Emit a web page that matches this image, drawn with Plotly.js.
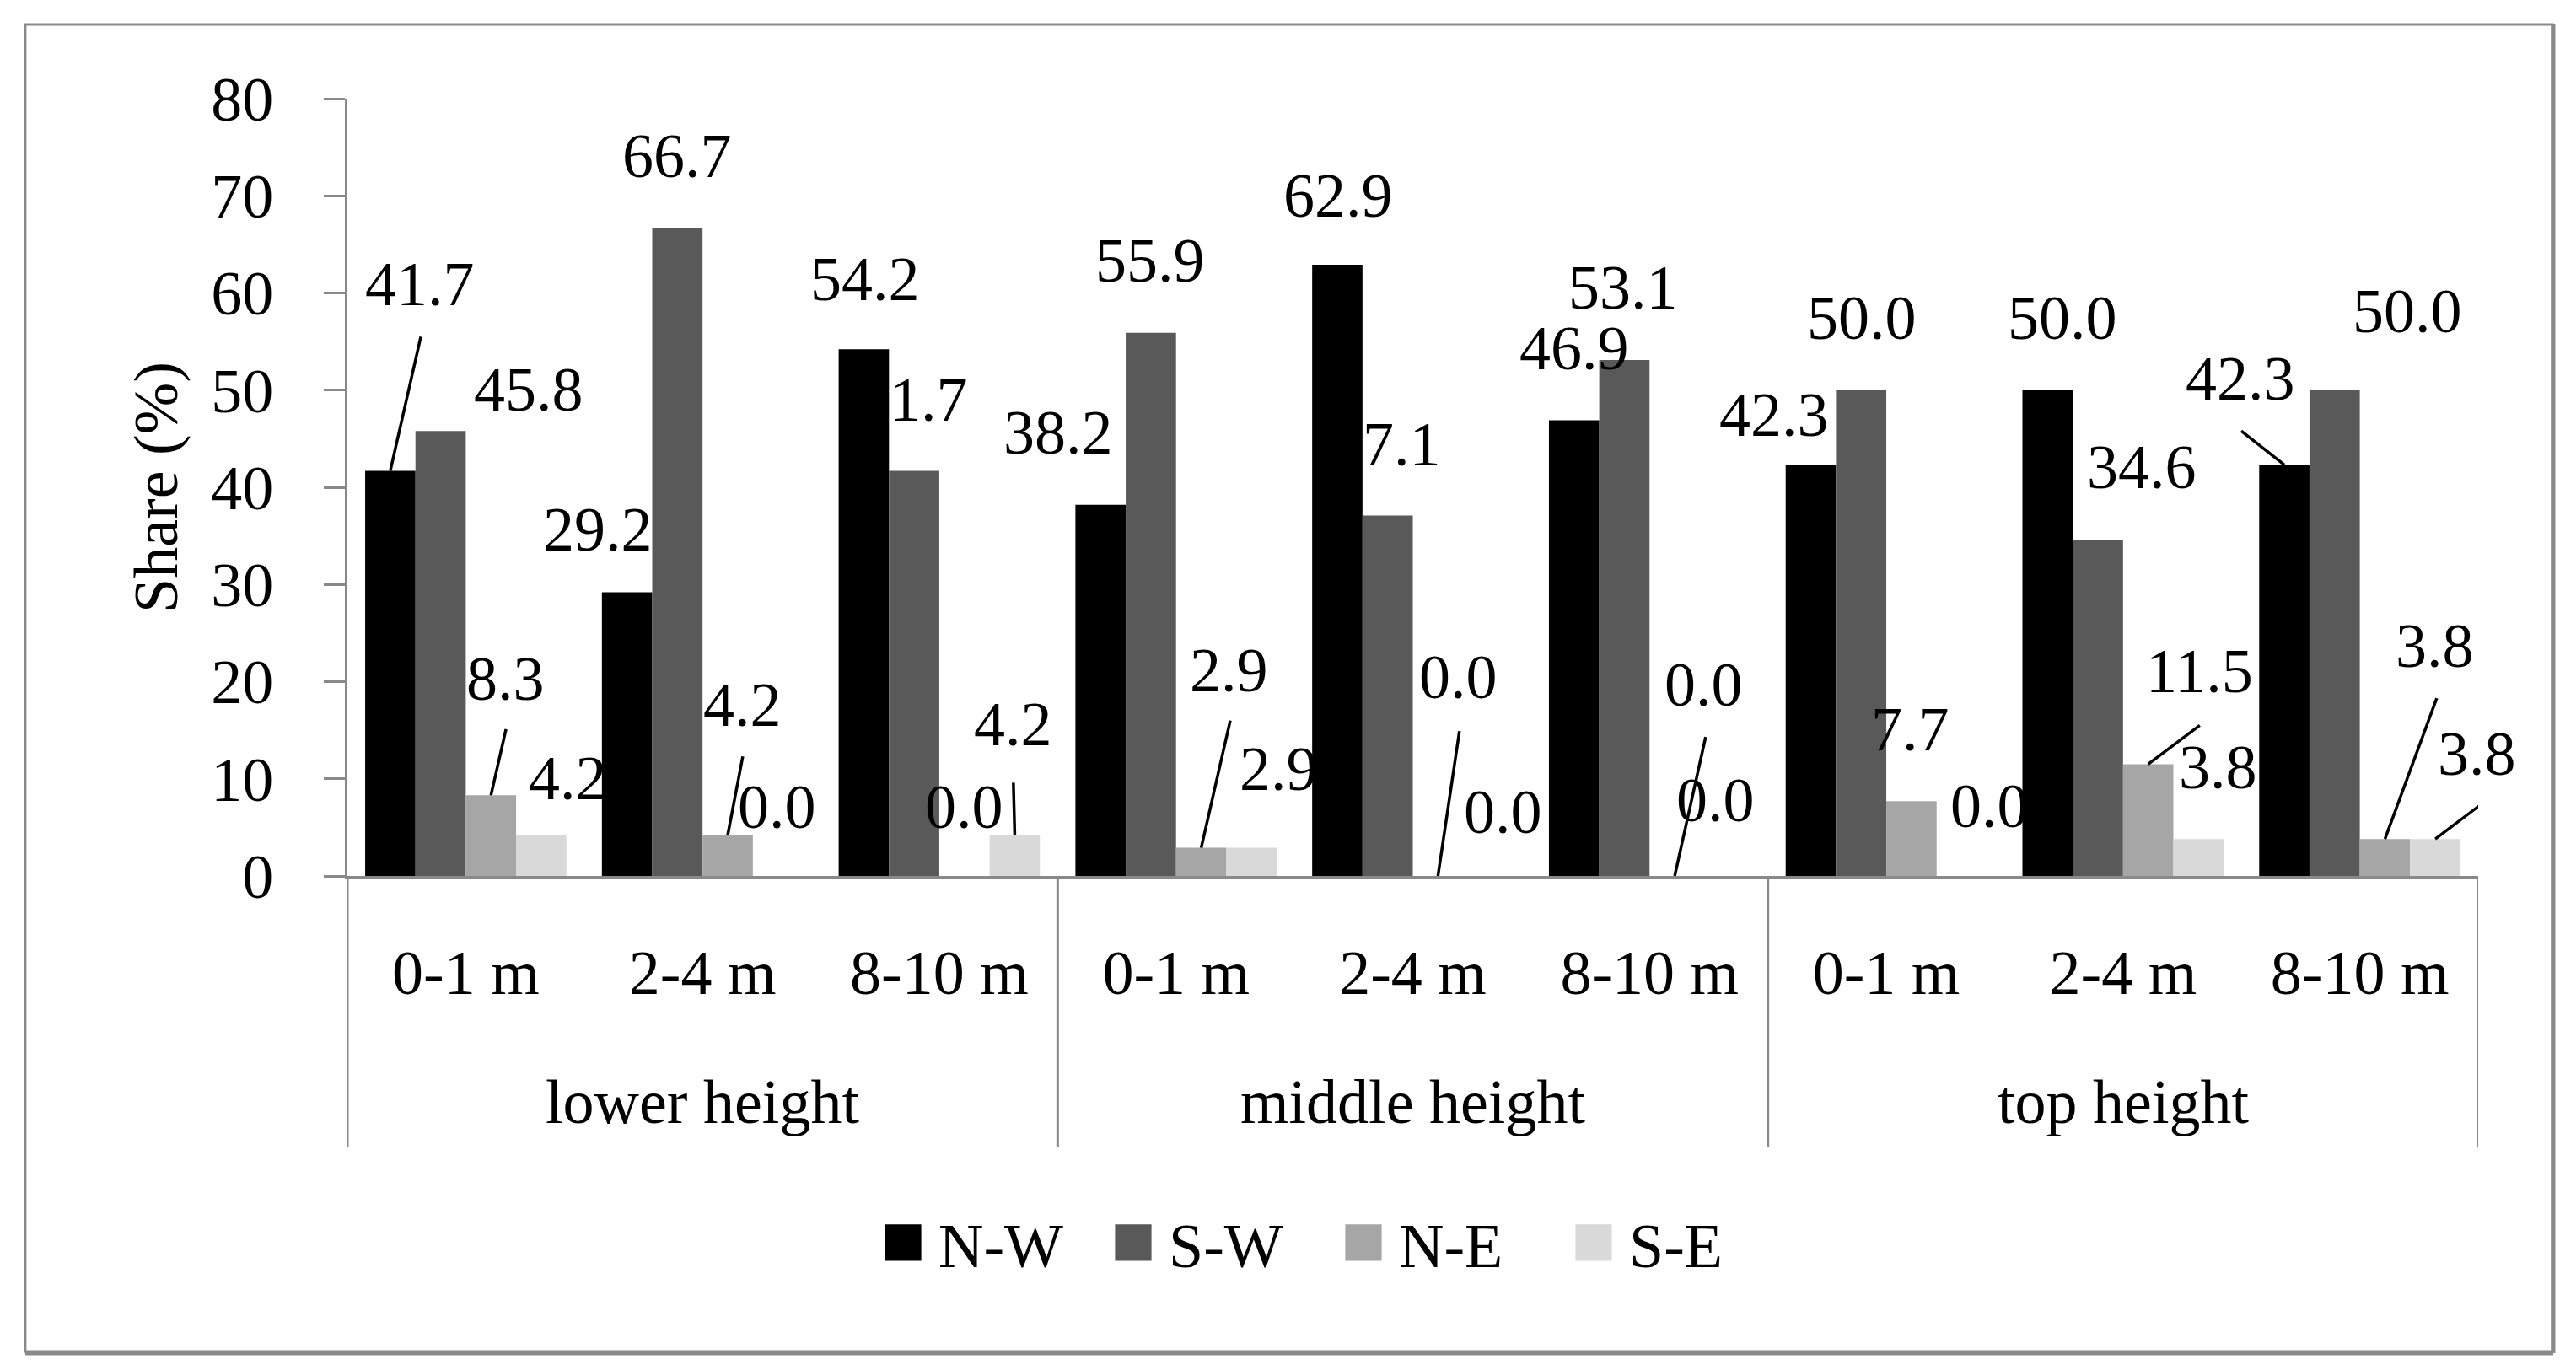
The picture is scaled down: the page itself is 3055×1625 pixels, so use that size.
<!DOCTYPE html>
<html><head><meta charset="utf-8">
<script src="https://cdn.plot.ly/plotly-3.0.1.min.js"></script>
<style>html,body{margin:0;padding:0;background:#fff}#chart{width:3055px;height:1625px}</style>
</head><body><div id="chart"></div>
<script>
// ---- data ----
const groups = ['lower height', 'middle height', 'top height'];
const heights = ['0-1 m', '2-4 m', '8-10 m'];
const seriesNames = ['N-W', 'S-W', 'N-E', 'S-E'];
const nwValues = [41.7, 29.2, 54.2, 38.2, 62.9, 46.9, 42.3, 50.0, 42.3];
const swValues = [45.8, 66.7, 41.7, 55.9, 37.1, 53.1, 50.0, 34.6, 50.0];
const neValues = [8.3, 4.2, 0.0, 2.9, 0.0, 0.0, 7.7, 11.5, 3.8];
const seValues = [4.2, 0.0, 4.2, 2.9, 0.0, 0.0, 0.0, 3.8, 3.8];
const yTicks = [0, 10, 20, 30, 40, 50, 60, 70, 80];

// ---- styling / placement ----
const colors = ['#000000', '#595959', '#a6a6a6', '#d9d9d9'];
const FONT = 'Liberation Serif';
const FS = 74;
const GREY = '#898989';
const BARGAP = 0.15;

// label placements (data units) per [category][series]; lead = leader-line start
const labelPlace = [
  [{x:-0.194,y:60.9,lead:[-0.190,55.5]},{x:0.266,y:50.1},{x:0.166,y:20.3,lead:[0.170,15.1]},{x:0.433,y:10.1}],
  [{x:0.558,y:35.7},{x:0.892,y:74.1},{x:1.167,y:17.6,lead:[1.170,12.3]},{x:1.316,y:7.1}],
  [{x:1.687,y:61.4},{x:1.890,y:49.0},{x:2.107,y:7.1},{x:2.313,y:15.6,lead:[2.313,9.6]}],
  [{x:2.502,y:45.6},{x:2.890,y:63.3},{x:3.222,y:21.2,lead:[3.229,16.0]},{x:3.432,y:11.0}],
  [{x:3.684,y:70.0},{x:3.887,y:44.4},{x:4.194,y:20.5,lead:[4.197,14.9]},{x:4.382,y:6.6}],
  [{x:4.682,y:54.3},{x:4.888,y:60.6},{x:5.227,y:19.7,lead:[5.237,14.3]},{x:5.280,y:7.8}],
  [{x:5.526,y:47.5},{x:5.896,y:57.4},{x:6.103,y:15.1},{x:6.437,y:7.2}],
  [{x:6.744,y:57.4},{x:7.078,y:42.1},{x:7.324,y:21.1,lead:[7.324,15.5]},{x:7.403,y:11.2}],
  [{x:7.495,y:51.2,lead:[7.499,45.8]},{x:8.200,y:58.1},{x:8.318,y:23.7,lead:[8.325,18.3]},{x:8.496,y:12.6,lead:[8.503,7.2]}]
];

const allSeries = [nwValues, swValues, neValues, seValues];
const catIdx = [];
const tickText = [];
groups.forEach((g, gi) => heights.forEach((h, hi) => { catIdx.push(gi * heights.length + hi); tickText.push(h); }));

const traces = allSeries.map((vals, k) => ({
  type: 'bar', name: seriesNames[k], x: catIdx, y: vals,
  marker: {color: colors[k], line: {width: 0}}, hoverinfo: 'skip'
}));

const barW = (1 - BARGAP) / allSeries.length;
const annotations = [];
const shapes = [];
catIdx.forEach((c) => {
  allSeries.forEach((vals, k) => {
    const p = labelPlace[c][k];
    annotations.push({x: p.x, y: p.y, xref: 'x', yref: 'y', text: vals[c].toFixed(1),
      showarrow: false, xanchor: 'center', yanchor: 'middle',
      font: {family: FONT, size: FS, color: '#000'}});
    if (p.lead) {
      shapes.push({type: 'line', xref: 'x', yref: 'y', x0: p.lead[0], y0: p.lead[1],
        x1: c + (k - (allSeries.length - 1) / 2) * barW, y1: vals[c],
        line: {color: '#000', width: 3.5}});
    }
  });
});
// group labels
groups.forEach((g, gi) => {
  annotations.push({x: gi * heights.length + (heights.length - 1) / 2, y: -0.2907, xref: 'x', yref: 'paper',
    text: g, showarrow: false, xanchor: 'center', yanchor: 'middle',
    font: {family: FONT, size: FS, color: '#000'}});
});
// group dividers
for (let gi = 0; gi <= groups.length; gi++) {
  const xb = gi * heights.length - 0.5;
  shapes.push({type: 'line', xref: 'x', yref: 'paper', x0: xb, x1: xb, y0: 0, y1: -0.349,
    line: {color: GREY, width: 3}});
}
// outer frame
shapes.push({type: 'rect', xref: 'paper', yref: 'paper', x0: -0.1512, x1: 1.0348, y0: -0.6117, y1: 1.0954,
  line: {color: GREY, width: 3}, layer: 'below'});
shapes.push({type: 'line', xref: 'paper', yref: 'paper', x0: 1.0352, x1: 1.0352, y0: -0.6140, y1: 1.0954,
  line: {color: GREY, width: 5}});
shapes.push({type: 'line', xref: 'paper', yref: 'paper', x0: -0.1512, x1: 1.0352, y0: -0.6140, y1: -0.6140,
  line: {color: GREY, width: 5}});

const layout = {
  width: 3055, height: 1625,
  margin: {l: 412, r: 116, t: 117, b: 586, pad: 0},
  paper_bgcolor: '#fff', plot_bgcolor: '#fff',
  font: {family: FONT, size: FS, color: '#000'},
  barmode: 'group', bargap: BARGAP, bargroupgap: 0,
  showlegend: true,
  legend: {orientation: 'h', x: 0.2497, xanchor: 'left', y: -0.472, yanchor: 'middle',
    font: {family: FONT, size: FS, color: '#000'}, itemwidth: 60, traceorder: 'normal',
    entrywidth: 198, entrywidthmode: 'pixels',
    itemclick: false, itemdoubleclick: false},
  xaxis: {type: 'linear', range: [-0.5, catIdx.length - 0.5], tickvals: catIdx, ticktext: tickText,
    ticks: '', showline: true, linecolor: GREY, linewidth: 4, showgrid: false, zeroline: false,
    ticklabelstandoff: 47, tickfont: {family: FONT, size: FS, color: '#000'}, fixedrange: true, automargin: false},
  yaxis: {range: [0, 80], tickvals: yTicks, ticks: 'outside', ticklen: 25, tickwidth: 3, tickcolor: GREY,
    showline: true, linecolor: GREY, linewidth: 3, showgrid: false, zeroline: false,
    ticklabelstandoff: 45, tickfont: {family: FONT, size: FS, color: '#000'},
    title: {text: 'Share (%)', font: {family: FONT, size: FS, color: '#000'}, standoff: 16},
    fixedrange: true, automargin: false},
  annotations: annotations, shapes: shapes
};

Plotly.newPlot('chart', traces, layout, {displayModeBar: false, staticPlot: true}).then(() => {
  document.querySelectorAll('.legendpoints path').forEach(p => {
    p.setAttribute('transform', 'translate(28,0) scale(3.6)');
  });
});
</script></body></html>
